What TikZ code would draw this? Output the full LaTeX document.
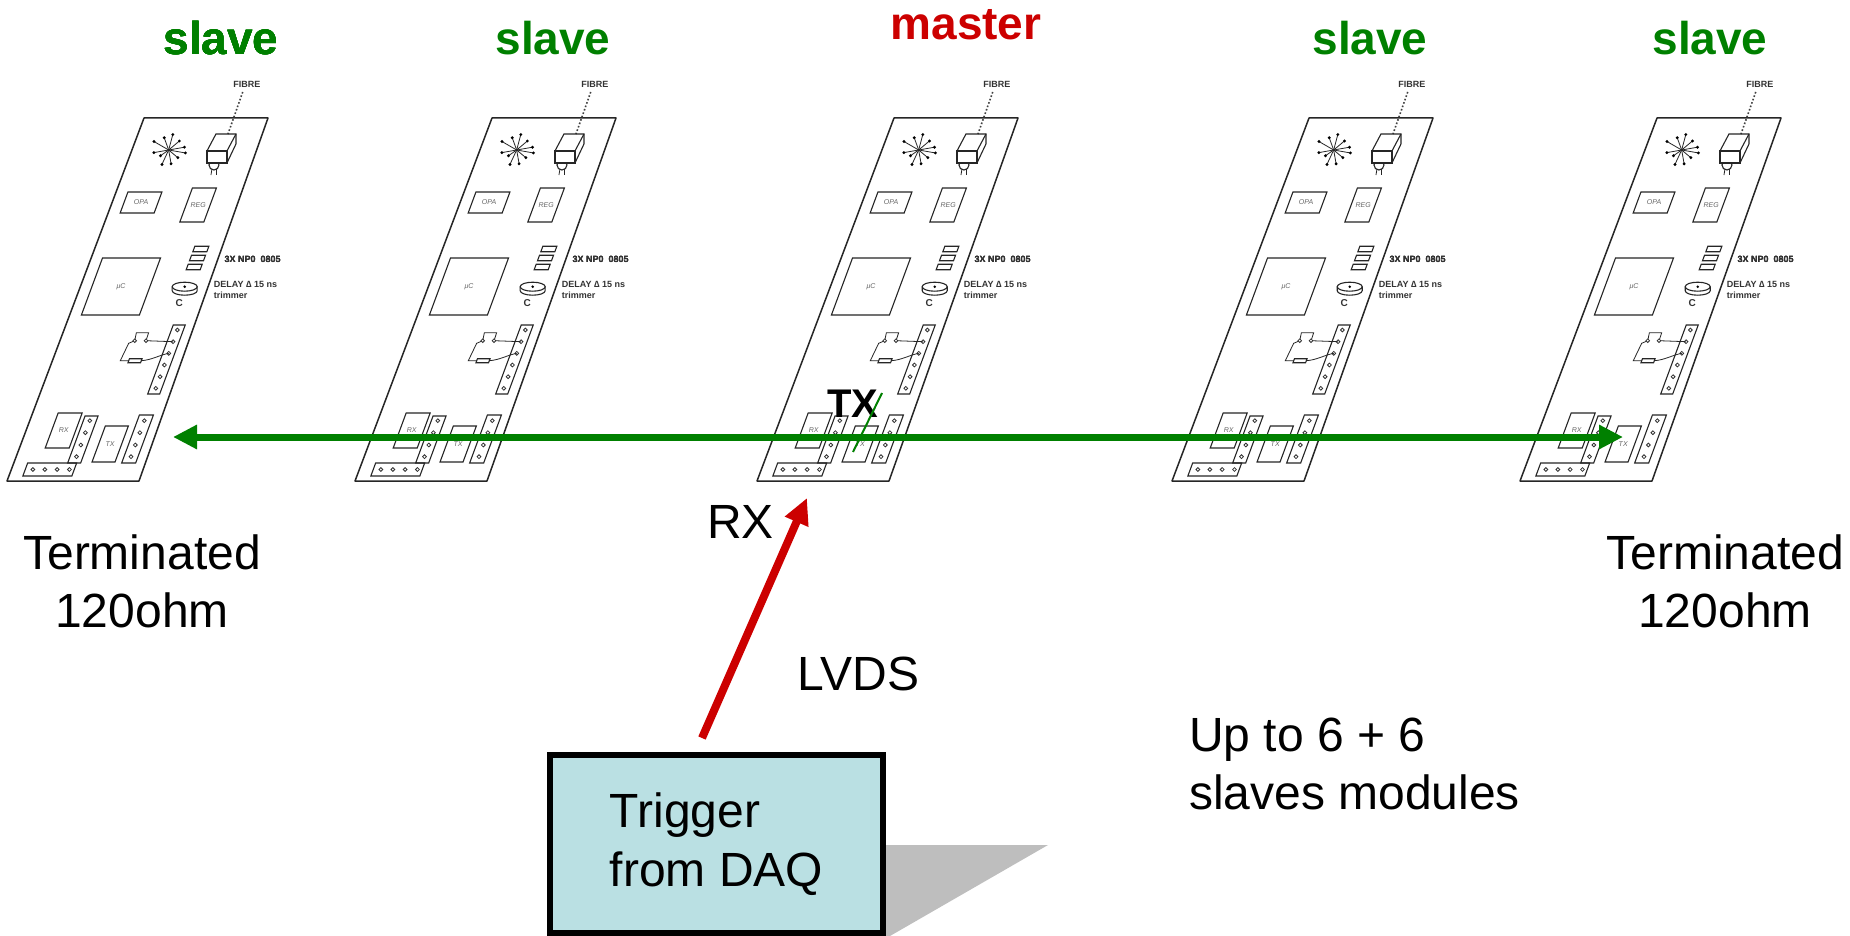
\documentclass[tikz,border=0pt]{standalone}
\usepackage{fontspec}
\setmainfont{Liberation Sans}
\usetikzlibrary{arrows.meta,calc}

\definecolor{slavegreen}{HTML}{008000}
\definecolor{masterred}{HTML}{CC0000}
\definecolor{trigfill}{HTML}{BAE0E3}
\definecolor{shadowgray}{HTML}{BEBEBE}

\newcommand\pgram[4]{\draw[comp] (#1,#2) -- (#3,#2) -- (#3,#4) -- (#1,#4) -- cycle;}
\newcommand\pcb[2]{%
\begin{scope}[shift={(#1,481)},x={(1pt,0pt)},y={(0.37pt,1pt)}]
\coordinate (#2) at (0,0);
\draw[pcbline] (0,0) -- (132,0) -- (126.7,363) -- (2.7,363) -- cycle;
\node[smalltxt] (#2-fibre) at (93,397) {FIBRE};
\draw[fibreline] (91.8,389) -- (92.6,347);
\coordinate (#2-fib) at (82.3,318);
\draw[thincomp] ($(#2-fib)+(5pt,-6pt)$) -- ++(-1pt,-6pt);
\draw[thincomp] ($(#2-fib)+(9pt,-6pt)$) -- ++(0pt,-6pt);
\draw[comp,fill=white] ($(#2-fib)+(7pt,-2pt)$) circle[radius=5pt];
\draw[comp,fill=white] (#2-fib) rectangle ++(20pt,12pt);
\draw[comp] ($(#2-fib)+(0pt,12pt)$) -- ++(9pt,17pt) -- ++(20pt,0pt) -- ++(0pt,-10pt) -- ($(#2-fib)+(20pt,0pt)$);
\draw[comp] ($(#2-fib)+(20pt,12pt)$) -- ++(9pt,17pt);
\coordinate (#2-star) at (39.2,331);
\foreach \ang/\len in {10/16,40/14,75/16,110/13,150/17,190/15,215/10,245/16,280/14,320/12,350/17}
  {\draw[thincomp] (#2-star) -- ++(\ang:\len pt);
   \fill ($(#2-star)+(\ang:\len pt)$) circle[radius=1.6pt];}
\pgram{14}{268}{48}{289}
\node[chiptxt] (#2-opa) at (31,278.5) {OPA};
\pgram{77}{259}{101}{293}
\node[chiptxt] (#2-reg) at (89,276) {REG};
\foreach \hv in {214,223,232} \pgram{101}{\hv-2.75}{115}{\hv+2.75}
\node[smalltxt,anchor=west] (#2-np) at (135.3,221.7) {3X NP0\ \ 0805};
\pgram{13}{166}{71}{223}
\node[chiptxt] (#2-uc) at (42,194.5) {μC};
\coordinate (#2-trim) at (105.8,194.3);
\draw[comp,fill=white] ($(#2-trim)+(-12.5pt,0pt)$) -- ++(0pt,-4pt) arc[start angle=180,end angle=360,x radius=12.5pt,y radius=4.5pt] -- ++(0pt,4pt);
\draw[comp,fill=white] (#2-trim) ellipse[x radius=12.5pt,y radius=4.5pt];
\fill (#2-trim) circle[radius=1.4pt];
\node[ctxt] (#2-c) at (106.3,178.3) {C};
\node[smalltxt,anchor=west,align=left] (#2-dl) at (135.9,191.3) {DELAY ∆ 15 ns\\trimmer};
\pgram{108.5}{87}{120.5}{156}
\foreach \hv in {151,139.3,127.7,116,104.3,92.7} \draw[hole] (114.5,\hv) circle[radius=1.9pt];
\draw[thincomp] (75.8,140.3) -- (74.5,148.3) -- (86.8,148.3) -- (87.1,140.3);
\draw[thincomp] (87.1,140.3) -- (114.5,139.3);
\draw[thincomp] (75.8,140.3) -- (70.7,137.7) -- (68.8,120.3) -- (77.2,120.3);
\pgram{77.2}{118.3}{89.8}{122.3}
\draw[thincomp] (89.8,120.3) .. controls (100,121) and (106,126) .. (114.5,127.7);
\draw[hole,fill=white] (75.8,140.3) circle[radius=1.8pt];
\draw[hole,fill=white] (87.1,140.3) circle[radius=1.8pt];
\pgram{26}{33}{50}{68}
\node[chiptxt] (#2-rx) at (38,50.5) {RX};
\pgram{54}{18}{67}{65}
\foreach \hv in {60.3,48.3,36,24.3} \draw[hole] (60.5,\hv) circle[radius=1.9pt];
\pgram{78}{19}{101}{55}
\node[chiptxt] (#2-tx) at (89.5,37) {TX};
\pgram{108}{18}{122}{66}
\foreach \hv in {60.3,48.3,36,24.3} \draw[hole] (115,\hv) circle[radius=1.9pt];
\pgram{14}{5}{63}{18}
\foreach \hu in {21.6,33.6,45.9,58.2} \draw[hole] (\hu,11.5) circle[radius=1.9pt];
\end{scope}}

\begin{document}
\begin{tikzpicture}[x=1pt,y=-1pt,
  pcbline/.style={draw=black!85,line width=1.5pt,fill=white,line join=round},
  comp/.style={draw=black!85,line width=1.1pt},
  thincomp/.style={draw=black!85,line width=0.8pt},
  hole/.style={draw=black!80,line width=0.8pt},
  fibreline/.style={draw=black!75,line width=1.6pt,dotted},
  smalltxt/.style={font=\fontsize{9}{10.7}\selectfont\bfseries,text=black!80,inner sep=0pt},
  chiptxt/.style={font=\fontsize{7}{8}\selectfont\itshape,text=black!60,inner sep=0pt},
  ctxt/.style={font=\fontsize{10}{11}\selectfont\bfseries,text=black!80,inner sep=0pt},
  bigtxt/.style={font=\fontsize{48}{58}\selectfont,inner sep=0pt},
  rolelbl/.style={font=\fontsize{46}{58}\selectfont\bfseries,inner sep=0pt,anchor=base},
  greenarrow/.style={draw=slavegreen,line width=7pt,{Triangle[length=24pt,width=23pt]}-{Triangle[length=24pt,width=23pt]}},
  redarrow/.style={draw=masterred,line width=8pt,-{Triangle[length=26pt,width=24pt]}},
  trigbox/.style={draw=black,line width=6pt,fill=trigfill,minimum width=333pt,minimum height=178pt,align=left,font=\fontsize{48}{59}\selectfont}]
\useasboundingbox (0,0) rectangle (1850,936);
\clip (0,0) rectangle (1850,936);
\foreach \bx/\bn in {7/b1,355/b2,757/b3,1172/b4,1520/b5} \pcb{\bx}{\bn}
\node[rolelbl,text=slavegreen] (s1) at (221,55) {slave};
\node[rolelbl,text=slavegreen] (s2) at (553,55) {slave};
\node[rolelbl,text=masterred] (m3) at (966,40) {master};
\node[rolelbl,text=slavegreen] (s4) at (1370,55) {slave};
\node[rolelbl,text=slavegreen] (s5) at (1710,55) {slave};
\coordinate (termL) at (173,437);
\coordinate (termR) at (1623,437);
\draw[greenarrow] (termL) -- (termR);
\node[font=\fontsize{40}{48}\selectfont\bfseries,inner sep=0pt,anchor=base west] (txm) at (827,417) {TX};
\draw[draw=slavegreen,line width=2pt] (882,393) -- (853,452);
\node[bigtxt,align=center,anchor=north] (tl) at (142,535) {Terminated\\120ohm};
\node[bigtxt,align=center,anchor=north] (tr) at (1725,535) {Terminated\\120ohm};
\node[bigtxt,align=left,anchor=north west] (up) at (1189,718) {Up to 6 + 6\\slaves modules};
\fill[shadowgray] (886,845) -- (1048,845) -- (890,936) -- (886,936) -- cycle;
\node[trigbox] (trig) at (716.5,844) {Trigger\\from DAQ};
\coordinate (rxin) at (807,498);
\draw[redarrow] ([shift={(-14.5pt,14pt)}]trig.north) -- (rxin);
\node[bigtxt,anchor=base west] (rx) at (707,538) {RX};
\node[bigtxt,anchor=base west] (lvds) at (797,690) {LVDS};
\end{tikzpicture}
\end{document}
